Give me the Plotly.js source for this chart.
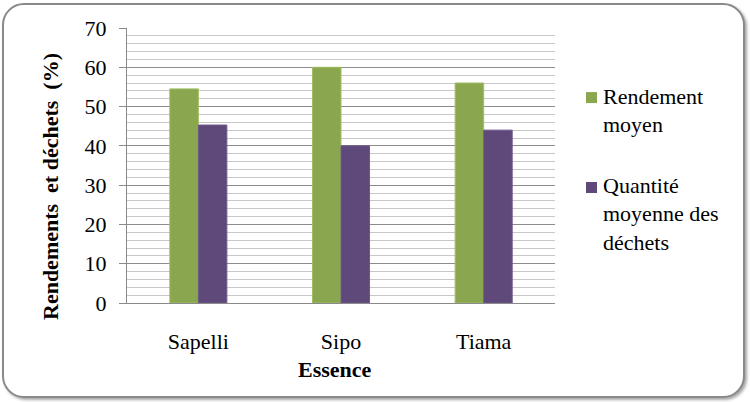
<!DOCTYPE html>
<html>
<head>
<meta charset="utf-8">
<script src="https://cdn.plot.ly/plotly-3.0.1.min.js"></script>
<style>
html,body{margin:0;padding:0;background:#fff;}
#frame{position:absolute;left:2px;top:3px;width:739px;height:391px;border:2px solid #8a8a8a;border-radius:22px;box-shadow:2px 2px 3px rgba(0,0,0,0.35);background:#fff;}
#chart{position:absolute;left:0;top:0;width:750px;height:402px;}
</style>
</head>
<body>
<div id="frame"></div>
<div id="chart"></div>
<script>
const categories = ["Sapelli", "Sipo", "Tiama"];
const rendement = [54.5, 60, 56];
const dechets = [45.3, 40, 44];
const seriesNames = ["Rendement moyen", "Quantité moyenne des déchets"];
const seriesLines = [["Rendement", "moyen"], ["Quantité", "moyenne des", "déchets"]];
const seriesColors = ["#8aa64e", "#5f497a"];
const yTicks = [0, 10, 20, 30, 40, 50, 60, 70];
const xTitle = "Essence";
const yTitle = "Rendements\u00a0 et déchets\u00a0 (%)";

const font = "Liberation Serif, serif";

const traces = [
  {type: "bar", x: categories, y: rendement, name: seriesNames[0],
   marker: {color: seriesColors[0], line: {color: "#9fbf63", width: 1}}},
  {type: "bar", x: categories, y: dechets, name: seriesNames[1],
   marker: {color: seriesColors[1], line: {color: "#6e5a8a", width: 1}}}
];

// legend drawn as single-line text annotations with colour keys (paper coordinates)
const legendFirstLine = [0.7525, 0.429];
const lineStep = 0.1045;
const keyBox = [[0.727, 0.767], [0.40, 0.44]];
const legendAnn = [];
seriesLines.forEach((lines, i) => {
  lines.forEach((t, j) => {
    legendAnn.push({
      text: t, xref: "paper", yref: "paper", x: 1.108, y: legendFirstLine[i] - j * lineStep,
      xanchor: "left", yanchor: "middle", align: "left", showarrow: false,
      font: {family: font, size: 22, color: "#000"}
    });
  });
});
const legendKeys = seriesColors.map((c, i) => ({
  type: "rect", xref: "paper", yref: "paper",
  x0: 1.0724, x1: 1.0981, y0: keyBox[i][0], y1: keyBox[i][1],
  fillcolor: c, line: {width: 0}
}));

const layout = {
  width: 750, height: 402,
  margin: {l: 127, r: 195, t: 28, b: 99, autoexpand: false},
  paper_bgcolor: "rgba(0,0,0,0)",
  plot_bgcolor: "rgba(0,0,0,0)",
  font: {family: font, size: 22, color: "#000"},
  barmode: "group",
  bargap: 0.6,
  bargroupgap: 0,
  showlegend: false,
  xaxis: {
    type: "category",
    showline: true, linecolor: "#8a8a8a", linewidth: 1,
    ticks: "", showgrid: false,
    ticklabelstandoff: 19,
    tickfont: {family: font, size: 22},
    automargin: false
  },
  yaxis: {
    range: [0, 70], tickvals: yTicks, ticktext: yTicks.map(String),
    showline: true, linecolor: "#8a8a8a", linewidth: 1,
    ticks: "outside", ticklen: 7, tickcolor: "#8a8a8a",
    ticklabelstandoff: 8,
    showgrid: true, gridcolor: "#8c8c8c", gridwidth: 1,
    zeroline: false,
    minor: {dtick: 2, showgrid: true, gridcolor: "#c8c8c8", gridwidth: 1, ticks: ""},
    tickfont: {family: font, size: 22},
    automargin: false
  },
  shapes: legendKeys,
  annotations: [
    {text: "<b>" + xTitle + "</b>", xref: "paper", yref: "paper",
     x: (335 - 127) / 428, y: -(369 - 303) / 275, xanchor: "center", yanchor: "middle",
     showarrow: false, font: {family: font, size: 22}},
    {text: "<b>" + yTitle + "</b>", xref: "paper", yref: "paper", textangle: -90,
     x: (50 - 127) / 428, y: (303 - 187) / 275, xanchor: "center", yanchor: "middle",
     showarrow: false, font: {family: font, size: 22}}
  ].concat(legendAnn)
};

Plotly.newPlot("chart", traces, layout, {displayModeBar: false, staticPlot: true});
</script>
</body>
</html>
